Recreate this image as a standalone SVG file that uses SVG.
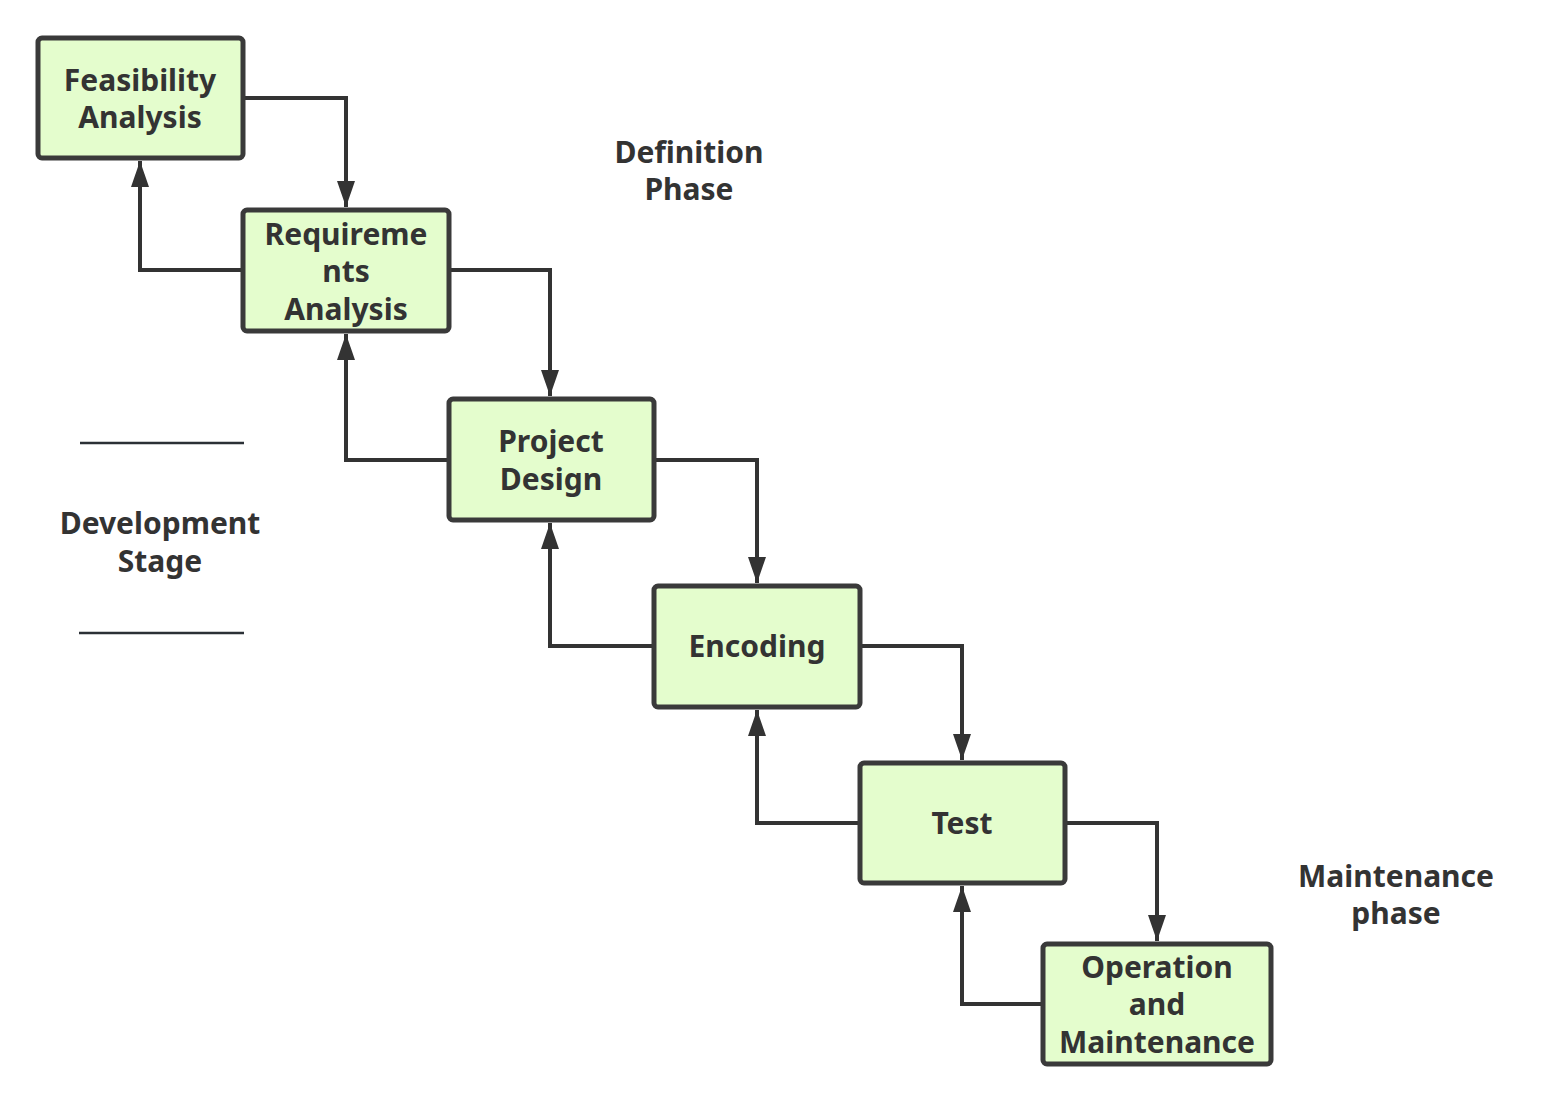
<svg xmlns="http://www.w3.org/2000/svg" width="1549" height="1102" viewBox="0 0 1549 1102">
<style>
.box{fill:#e4fdcd;stroke:#3a3a3a;stroke-width:5}
.t{font-family:"Noto Sans","Open Sans",sans-serif;font-weight:bold;font-size:30px;fill:#333;text-anchor:middle}
.c{fill:none;stroke:#333;stroke-width:4}
.sep{stroke:#2b3036;stroke-width:2.5}
</style>
<defs>
<marker id="a" markerWidth="28" markerHeight="20" refX="26" refY="10" orient="auto" markerUnits="userSpaceOnUse">
<path d="M0,1 L26,10 L0,19 z" fill="#333"/>
</marker>
</defs>
<rect width="1549" height="1102" fill="#fff"/>
<g id="connectors">
<path class="c" marker-end="url(#a)" d="M244,98 L346,98 L346,207"/>
<path class="c" marker-end="url(#a)" d="M242,270 L140,270 L140,161"/>
<path class="c" marker-end="url(#a)" d="M450,270 L550,270 L550,396"/>
<path class="c" marker-end="url(#a)" d="M448,460 L346,460 L346,334"/>
<path class="c" marker-end="url(#a)" d="M655,460 L757,460 L757,583"/>
<path class="c" marker-end="url(#a)" d="M653,646 L550,646 L550,523"/>
<path class="c" marker-end="url(#a)" d="M861,646 L962,646 L962,760"/>
<path class="c" marker-end="url(#a)" d="M859,823 L757,823 L757,710"/>
<path class="c" marker-end="url(#a)" d="M1066,823 L1157,823 L1157,941"/>
<path class="c" marker-end="url(#a)" d="M1042,1004 L962,1004 L962,886"/>
</g>
<g id="feasibility">
<rect class="box" x="38" y="38" width="205" height="120" rx="4"/>
<text class="t" x="140" y="91">Feasibility</text>
<text class="t" x="140" y="128">Analysis</text>
</g>
<g id="requirements">
<rect class="box" x="243" y="210" width="206" height="121" rx="4"/>
<text class="t" x="346" y="245">Requireme</text>
<text class="t" x="346" y="282">nts</text>
<text class="t" x="346" y="320">Analysis</text>
</g>
<g id="project-design">
<rect class="box" x="449" y="399" width="205" height="121" rx="4"/>
<text class="t" x="551" y="452">Project</text>
<text class="t" x="551" y="490">Design</text>
</g>
<g id="encoding">
<rect class="box" x="654" y="586" width="206" height="121" rx="4"/>
<text class="t" x="757" y="657">Encoding</text>
</g>
<g id="test">
<rect class="box" x="860" y="763" width="205" height="120" rx="4"/>
<text class="t" x="962" y="834">Test</text>
</g>
<g id="operation">
<rect class="box" x="1043" y="944" width="228" height="120" rx="4"/>
<text class="t" x="1157" y="978">Operation</text>
<text class="t" x="1157" y="1015">and</text>
<text class="t" x="1157" y="1053">Maintenance</text>
</g>
<g id="definition-phase">
<text class="t" x="689" y="163">Definition</text>
<text class="t" x="689" y="200">Phase</text>
</g>
<g id="development-stage">
<line class="sep" x1="80" y1="443" x2="244" y2="443"/>
<text class="t" x="160" y="534">Development</text>
<text class="t" x="160" y="572">Stage</text>
<line class="sep" x1="79" y1="633" x2="244" y2="633"/>
</g>
<g id="maintenance-phase">
<text class="t" x="1396" y="887">Maintenance</text>
<text class="t" x="1396" y="924">phase</text>
</g>
</svg>
